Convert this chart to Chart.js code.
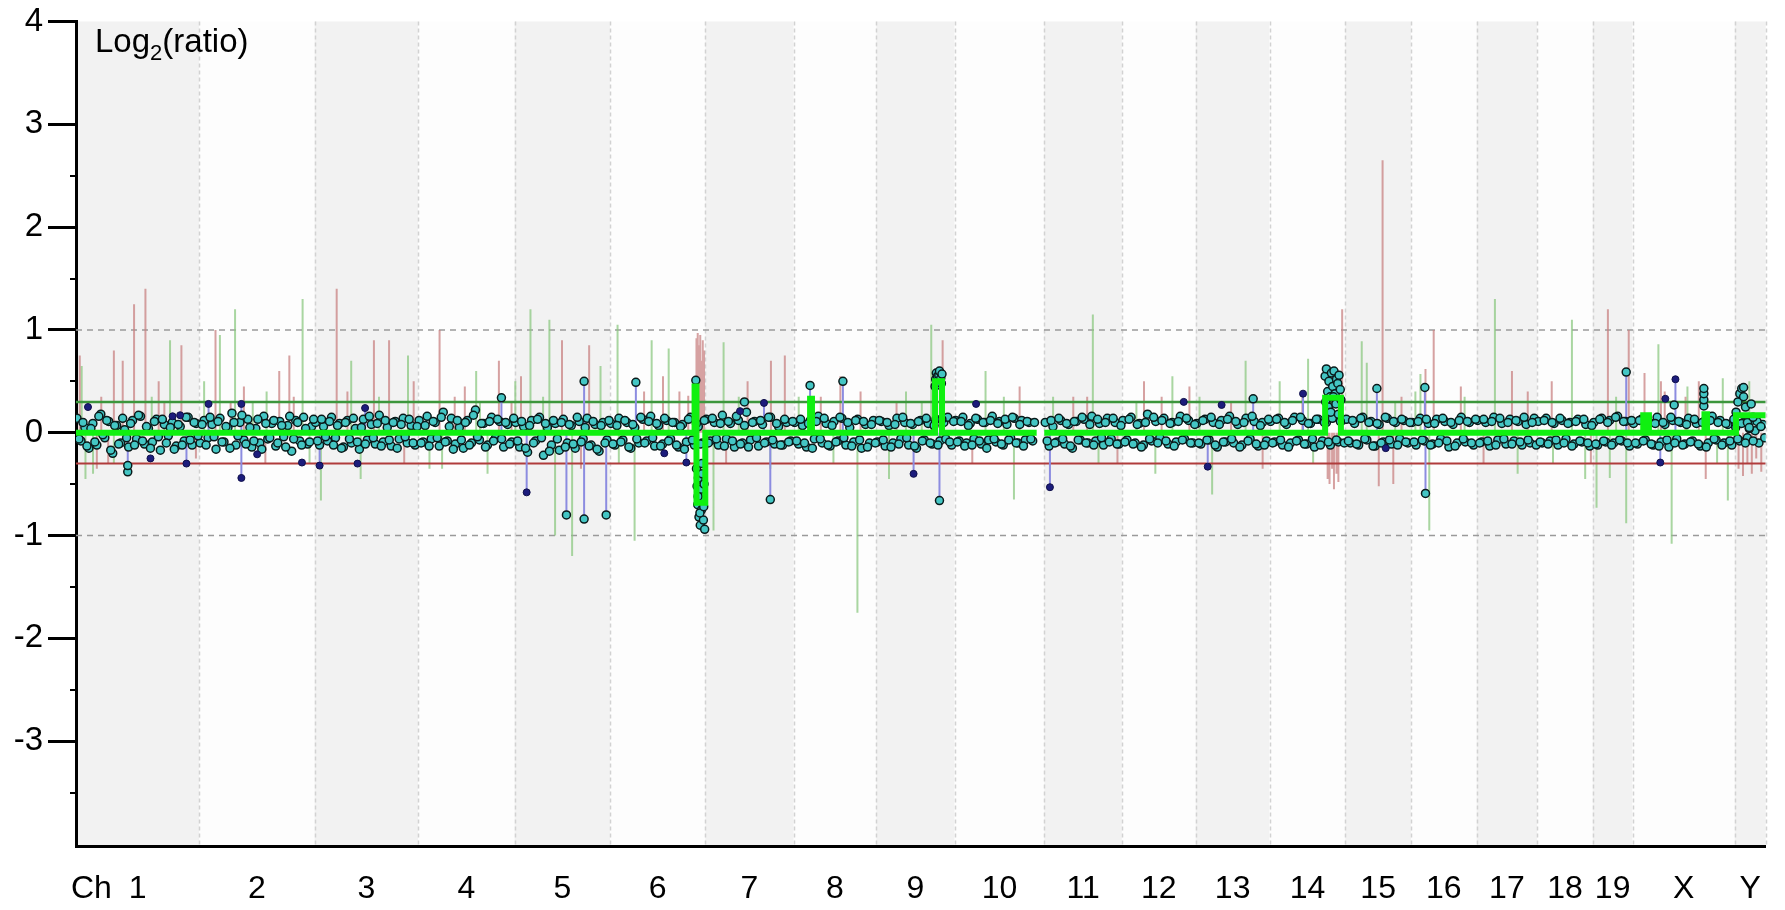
<!DOCTYPE html>
<html>
<head>
<meta charset="utf-8">
<script src="https://cdn.jsdelivr.net/npm/chart.js@4.4.1/dist/chart.umd.min.js"></script>
<style>
  html, body { margin: 0; padding: 0; background: #fff; }
  canvas { display: block; }
</style>
</head>
<body>
<canvas id="cgh" width="1785" height="910"></canvas>
<script>
// Cromossomos (Mb) – largura de cada faixa no eixo do genoma
const chrNames = ['1','2','3','4','5','6','7','8','9','10','11','12','13','14','15','16','17','18','19','X','Y'];
const chrLenMb = [195,183,164,153,151,151,140,131,124,142,123,117,117,120,104,104,96,88,63,162,49];
const chrProbedMb = [195,183,164,153,151,151,140,131,124,128,123,117,117,120,104,104,96,88,63,162,49];

const yTickValues = [4, 3, 2, 1, 0, -1, -2, -3];
const yMinorTicks = [2.5, 1.5, 0.5, -0.5, -1.5, -2.5, -3.5];
const thresholdGain = 0.3;
const thresholdLoss = -0.3;
const guideLevels = [1, -1];

// log2 das sondas, uniformemente espaçadas em cada cromossomo (duas séries intercaladas)
const probesByChrA = [
  [.14,-.08,.05,-.15,.09,-.12,.18,-.05,.11,-.2,.07,-.1,.03,-.14,.12,-.06,.16,-.11,.04,-.09,.13,-.17,.08,-.03,.1,-.13,.06,-.08,.15,-.12,.09],
  [-.1,.12,-.05,.08,-.16,.14,-.09,.05,.19,-.12,.1,-.07,.13,-.14,.04,-.1,.16,-.06,.09,-.13,.11,-.04,.07,-.18,.12,-.08,.15,-.11,.06],
  [.1,-.12,.06,-.08,.15,-.05,.09,-.14,.12,-.1,.04,-.16,.13,-.07,.08,-.11,.17,-.09,.05,-.13,.11,-.06,.14,-.1,.07,-.12],
  [.12,-.09,.16,-.06,.1,-.13,.2,-.08,.14,-.11,.05,-.15,.12,-.1,.22,-.07,.09,-.12,.15,-.05,.11,-.14,.08,-.09],
  [.1,-.14,.06,-.19,.12,-.08,.15,-.22,.05,-.12,.09,-.17,.13,-.1,.07,-.15,.11,-.06,.14,-.12,.08,-.18,.1,-.07],
  [.09,-.12,.14,-.07,.1,-.15,.05,-.1,.13,-.08,.16,-.13,.07,-.11,.12,-.06,.1,-.14,.08,-.09,.15,-.12,.06,-.1],
  [.13,-.08,.1,-.12,.17,-.06,.09,-.14,.12,-.1,.2,-.07,.11,-.13,.08,-.09,.15,-.11,.06,-.12,.1,-.08],
  [.1,-.11,.07,-.14,.12,-.06,.16,-.1,.09,-.13,.11,-.08,.14,-.12,.05,-.09,.13,-.15,.08,-.1,.12],
  [-.09,.11,-.13,.07,-.1,.14,-.06,.1,-.12,.08,-.15,.12,-.07,.09,-.11,.13,-.08,.1,.15,-.12],
  [.12,-.08,.15,-.1,.09,-.06,.13,-.11,.1,-.07,.16,-.09,.11,-.12,.08,-.05,.14,-.1,.12,-.07,.1,-.08],
  [.1,-.13,.06,-.09,.12,-.11,.08,-.15,.11,-.07,.13,-.1,.16,-.08,.09,-.12,.14,-.06,.1,-.11],
  [.12,-.07,.15,-.1,.09,-.12,.18,-.08,.11,-.05,.14,-.11,.1,-.09,.16,-.06,.12,-.1],
  [.09,-.11,.13,-.07,.1,-.14,.12,-.09,.16,-.1,.08,-.12,.14,-.06,.11,-.13,.1,-.08],
  [.11,-.09,.14,-.12,.08,-.1,.15,-.07,.12,-.11,.09,-.14,.13,-.08,.1,-.12,.16,-.09,.12],
  [.13,-.1,.09,-.12,.15,-.07,.11,-.13,.08,-.09,.14,-.11,.1,-.06,.12,-.1],
  [.1,-.12,.14,-.08,.09,-.11,.13,-.06,.11,-.14,.08,-.1,.15,-.09,.1,-.12],
  [.12,-.09,.1,-.13,.15,-.07,.09,-.11,.13,-.08,.11,-.12,.08,-.1,.14],
  [.11,-.1,.14,-.08,.09,-.12,.12,-.06,.1,-.11,.13,-.09,.08,-.13],
  [.1,-.12,.14,-.09,.12,-.1,.16,-.08,.11,-.13],
  [.09,-.11,.13,-.07,.1,-.12,.15,-.09,.08,-.14,.12,-.06,.1,-.11,.14,-.08,.09,-.13,.11,-.1,.16,-.07,.12,-.1,.08,-.12],
  [.05,-.08,.1,-.05,.12,.02,-.1,.08],
];
const probesByChrB = [
  [-.06,.1,-.13,.04,-.09,.16,-.02,.12,-.17,.07,-.11,.14,-.05,.09,-.12,.17,-.08,.06,-.15,.11,-.04,.13,-.1,.05,-.16,.08,-.12,.15,-.07,.1,-.03],
  [.08,-.12,.15,-.04,.11,-.09,.06,-.15,.1,-.03,.17,-.11,.05,-.08,.13,-.16,.09,-.05,.12,-.1,.07,-.14,.16,-.06,.1,-.12,.04,-.09,.13],
  [-.08,.13,-.04,.11,-.12,.07,-.15,.1,-.06,.14,-.09,.05,-.11,.16,-.05,.09,-.13,.12,-.07,.1,-.15,.08,-.04,.13,-.1,.06],
  [-.1,.07,-.13,.11,-.05,.15,-.09,.06,-.16,.12,-.07,.1,-.12,.17,-.04,.09,-.14,.11,-.08,.13,-.06,.1,-.11,.14],
  [-.08,.11,-.15,.07,-.1,.13,-.05,.09,-.18,.12,-.06,.1,-.14,.08,-.11,.15,-.09,.05,-.13,.11,-.16,.07,-.1,.12],
  [-.11,.07,-.09,.12,-.14,.08,-.06,.15,-.1,.11,-.05,.09,-.13,.14,-.08,.1,-.12,.06,-.16,.13,-.07,.09,-.11,.12],
  [-.1,.14,-.06,.09,-.13,.11,-.08,.16,-.11,.07,-.14,.1,-.05,.12,-.1,.15,-.07,.09,-.12,.13,-.09,.11],
  [-.08,.13,-.1,.09,-.15,.11,-.06,.14,-.12,.07,-.09,.15,-.05,.1,-.13,.12,-.07,.11,-.14,.08,-.1],
  [.12,-.07,.1,-.14,.08,-.11,.15,-.05,.09,-.13,.11,-.08,.14,-.1,.07,-.12,.13,-.06,-.09,.11],
  [-.09,.11,-.13,.07,-.12,.14,-.08,.1,-.15,.12,-.06,.09,-.11,.13,-.07,.15,-.1,.08,-.13,.11,-.06,.1],
  [-.08,.12,-.1,.14,-.06,.09,-.13,.11,-.07,.15,-.1,.08,-.12,.13,-.05,.1,-.09,.14,-.11,.07],
  [-.09,.13,-.11,.08,-.14,.1,-.06,.15,-.1,.12,-.08,.09,-.13,.11,-.07,.14,-.1,.08],
  [-.1,.12,-.07,.15,-.12,.08,-.09,.13,-.06,.11,-.14,.1,-.08,.16,-.11,.07,-.12,.13],
  [-.1,.13,-.07,.1,-.14,.12,-.08,.15,-.11,.09,-.06,.13,-.12,.1,-.09,.14,-.07,.11,-.1],
  [-.08,.12,-.11,.14,-.06,.1,-.13,.09,-.1,.15,-.07,.11,-.12,.13,-.09,.1],
  [-.09,.11,-.07,.13,-.12,.09,-.1,.14,-.08,.1,-.13,.12,-.06,.11,-.1,.13],
  [-.1,.13,-.08,.11,-.12,.14,-.06,.1,-.11,.12,-.09,.15,-.07,.1,-.12],
  [-.09,.12,-.11,.1,-.07,.14,-.1,.09,-.13,.11,-.08,.13,-.1,.07],
  [-.11,.13,-.08,.1,-.12,.15,-.07,.11,-.1,.12],
  [-.1,.12,-.08,.14,-.11,.09,-.13,.1,-.07,.15,-.1,.11,-.12,.08,-.09,.13,-.11,.1,-.14,.12,-.06,.1,-.12,.09,-.08,.13],
  [-.06,.09,-.1,.04,-.08,.11,.06,-.05],
];

// aglomerados de sondas (posição no genoma, Mb)
const clusterMb = [983,984,985,986,987,988,989,990,991,992,993,994,995,996,985.5,988.5,991.5,994.5,
  1361,1362,1363,1364,1365,1366,1367,1368,1369,1370,1371,1372,
  1979,1981,1983,1985,1987,1989,1991,1993,1995,1997,1999,2001,2003,1980,1984,1988,1992,1996,2000,2004,
  2579,2579,2579,2579,
  2630,2633,2636,2639,2642,2645,2648,2651,2654,2657];
const clusterLog2 = [-.35,-.52,-.7,-.44,-.82,-.6,-.9,-.55,-.75,-.4,-.66,-.85,-.5,-.94,-.62,-.78,-.3,-.72,
  .45,.52,.58,.5,.55,.47,.56,.6,.5,.53,.48,.57,
  .55,.62,.4,.5,.35,.58,.45,.6,.38,.52,.48,.56,.42,.3,.25,.2,.35,.28,.18,.32,
  .26,.32,.38,.43,
  .2,.3,.38,.43,.35,.25,.1,.05,.28,.15];

// sondas isoladas: c = ciano, n = azul-marinho; stem = haste até o zero
const outlierMb =   [19,82,82,118,153,165,175,210,262,262,287,358,386,446,458,674,714,777,805,805,840,887,932,967,982,1052,1059,1090,1100,1163,1215,1327,1368,1426,1543,1755,1793,1815,1865,1944,2061,2075,2137,2138,2456,2510,2518,2532,2534,2642];
const outlierLog2 = [.25,-.38,-.32,-.25,.16,.17,-.3,.28,.28,-.44,-.21,-.29,-.32,-.3,.24,.34,-.58,-.8,-.84,.5,-.8,.49,-.2,-.29,.51,.21,.3,.29,-.65,.46,.5,-.4,-.66,.28,-.53,.3,-.33,.27,.33,.38,.43,-.15,.44,-.59,.59,-.29,.33,.27,.52,.44];
const outlierKind = ['n','c','c','n','n','n','n','n','n','n','n','n','n','n','n','c','n','c','c','c','c','c','n','n','c','n','c','n','c','c','c','n','c','n','n','n','n','n','c','n','c','n','c','c','c','n','n','c','n','c'];
const outlierStem = [0,1,0,0,0,0,1,1,1,1,0,0,1,0,1,1,1,1,1,1,1,1,0,1,0,0,0,1,1,1,1,1,1,0,1,0,1,0,1,1,1,0,1,1,1,1,0,0,1,0];

// barras claras da segunda amostra (vermelha e verde)
const redBarMb = [6,33,40,51,60,74,92,110,131,140,167,190,221,245,266,300,322,338,345,413,430,472,496,520,535,576,600,616,670,690,705,770,800,813,900,930,956,970,983,985,987,989,991,993,995,1030,1064,1101,1123,1180,1211,1243,1300,1373,1420,1495,1580,1602,1650,1692,1720,1764,1830,1880,1943,1983,1986,1990,1993,1997,2000,2006,2064,2070,2087,2100,2138,2151,2194,2230,2275,2300,2338,2400,2427,2460,2485,2511,2517,2550,2571,2582,2634,2641,2648,2655,2662,2670];
const redBarLog2 = [.75,-.35,.35,-.3,.8,.7,1.25,1.4,.5,.3,.85,-.25,1.0,.3,.45,-.3,.6,.75,.35,1.4,.4,.9,.9,-.3,.5,1.0,.35,.45,.7,.3,.55,.9,-.35,.85,.4,.55,.4,.36,.92,.97,.85,.95,.7,.9,.8,-.3,.5,.7,.75,.35,.55,.4,.3,.9,-.3,.45,.35,.35,-.3,.5,.35,.45,.3,-.35,.4,-.45,-.5,-.35,-.55,-.4,-.48,1.2,-.52,2.65,-.5,.35,.62,1.0,.45,-.3,.6,.4,.5,-.3,1.2,1.0,.58,.5,.4,.35,.5,-.45,-.35,-.42,-.3,-.4,-.25,-.38];
const greenBarMb = [9,15,27,60,120,149,203,228,252,280,302,359,370,388,436,451,480,526,560,580,634,640,652,696,720,740,750,759,786,831,858,860,885,912,939,1010,1026,1050,1100,1145,1200,1238,1288,1315,1340,1355,1441,1470,1486,1548,1611,1620,1680,1710,1737,1780,1800,1853,1907,1952,1960,2037,2045,2090,2122,2130,2144,2200,2248,2284,2340,2370,2391,2409,2430,2440,2456,2507,2528,2553,2600,2609,2617,2651];
const greenBarLog2 = [.65,-.45,-.4,-.3,.35,.9,.5,.95,1.2,.3,.4,1.3,-.3,-.66,.7,-.45,.35,.75,-.35,-.35,.6,.3,-.4,.5,1.2,.35,1.1,-1.0,-1.2,.65,1.05,-.3,-1.05,.9,.82,-.95,.88,.35,-.35,.35,-.3,-1.75,-.45,.4,.3,1.05,.6,.35,-.65,.35,1.15,-.3,.3,-.4,.55,.35,-.6,.7,.5,.72,-.3,.89,.68,.3,.4,.57,-.95,.35,1.3,-.4,-.3,1.1,-.45,-.73,-.44,.35,-.88,.86,-1.08,.45,-.3,.53,-.66,.5];

// segmentação (genoma, Mb)
const segStartMb = [0,980,983,997,1163,1166,1361,1372,1534,1979,2004,2483,2492,2580,2584,2630];
const segEndMb   = [980,983,997,1163,1166,1361,1372,1522,1979,2004,2483,2492,2580,2584,2630,2677];
const segLog2    = [0,.45,-.68,0,.33,0,.5,0,0,.34,0,.17,0,.18,0,.17];

const FONT = "'Liberation Sans', Arial, sans-serif";
const chrStart = chrLenMb.map((_, i) => chrLenMb.slice(0, i).reduce((a, b) => a + b, 0));
const genomeMb = chrLenMb.reduce((a, b) => a + b, 0);

const probePts = [];
[[probesByChrA, 0.25], [probesByChrB, 0.75]].forEach(([serie, desloc]) => {
  serie.forEach((vals, c) => vals.forEach((v, i) => {
    probePts.push({ x: chrStart[c] + (i + desloc) * chrProbedMb[c] / vals.length, y: v });
  }));
});
clusterMb.forEach((m, i) => probePts.push({ x: m, y: clusterLog2[i] }));
outlierMb.forEach((m, i) => { if (outlierKind[i] === 'c') probePts.push({ x: m, y: outlierLog2[i] }); });
const navyPts = outlierMb.map((m, i) => ({ x: m, y: outlierLog2[i] })).filter((_, i) => outlierKind[i] === 'n');

function hastes(pos, vals) {
  const out = [];
  pos.forEach((m, i) => { out.push({ x: m, y: 0 }, { x: m, y: vals[i] }, { x: m, y: null }); });
  return out;
}
const stemPts = hastes(outlierMb.filter((_, i) => outlierStem[i]), outlierLog2.filter((_, i) => outlierStem[i]));

const segPts = [];
segStartMb.forEach((s, i) => {
  if (i > 0 && s !== segEndMb[i - 1]) segPts.push({ x: s, y: null });
  segPts.push({ x: s, y: segLog2[i] }, { x: segEndMb[i], y: segLog2[i] });
});

function linhaH(v) { return [{ x: 0, y: v }, { x: genomeMb, y: v }]; }

const faixas = {
  id: 'faixas',
  beforeDraw(chart) {
    const { ctx, chartArea: a, scales: { x } } = chart;
    ctx.save();
    chrStart.forEach((s, i) => {
      const x0 = x.getPixelForValue(s), x1 = x.getPixelForValue(s + chrLenMb[i]);
      ctx.fillStyle = i % 2 === 0 ? '#f2f2f2' : '#fdfdfd';
      ctx.fillRect(x0, a.top, x1 - x0, a.bottom - a.top);
    });
    ctx.strokeStyle = '#d2d2d2'; ctx.lineWidth = 1.5; ctx.setLineDash([4, 3]);
    chrStart.slice(1).concat([genomeMb]).forEach(s => {
      const px = Math.round(x.getPixelForValue(s)) + 0.5;
      ctx.beginPath(); ctx.moveTo(px, a.top); ctx.lineTo(px, a.bottom); ctx.stroke();
    });
    ctx.restore();
  },
  afterDraw(chart) {
    const { ctx, chartArea: a, scales: { y } } = chart;
    ctx.save();
    ctx.strokeStyle = '#000'; ctx.lineWidth = 2;
    yMinorTicks.forEach(v => {
      const py = Math.round(y.getPixelForValue(v));
      ctx.beginPath(); ctx.moveTo(a.left - 6, py); ctx.lineTo(a.left, py); ctx.stroke();
    });
    ctx.fillStyle = '#000';
    ctx.textBaseline = 'alphabetic';
    ctx.font = `32px ${FONT}`;
    ctx.fillText('Ch', 71, 898);
    ctx.font = `33px ${FONT}`;
    let px = 95;
    ctx.fillText('Log', px, 52); px += ctx.measureText('Log').width;
    ctx.font = `22px ${FONT}`;
    ctx.fillText('2', px, 60); px += ctx.measureText('2').width;
    ctx.font = `33px ${FONT}`;
    ctx.fillText('(ratio)', px, 52);
    ctx.restore();
  }
};

const linha = (data, color, width, order, dash) => ({
  data, showLine: true, borderColor: color, borderWidth: width, borderDash: dash || [],
  pointRadius: 0, pointHoverRadius: 0, spanGaps: false, order,
});

new Chart(document.getElementById('cgh'), {
  type: 'scatter',
  data: {
    datasets: [
      linha(segPts, '#10f010', 6, 0),
      { data: navyPts, pointRadius: 3.5, pointBackgroundColor: '#1c1c7c', pointBorderColor: '#10104a', pointBorderWidth: 1, order: 1 },
      { data: probePts, pointRadius: 4, pointBackgroundColor: '#44c6c4', pointBorderColor: '#0a1a1a', pointBorderWidth: 1.5, order: 2 },
      linha(stemPts, '#8c8ce0', 2, 3),
      linha(linhaH(thresholdGain), '#3c963c', 2.5, 4),
      linha(linhaH(thresholdLoss), '#b03c3c', 2, 4),
      linha(hastes(redBarMb, redBarLog2), 'rgba(200,130,130,0.75)', 2, 5),
      linha(hastes(greenBarMb, greenBarLog2), 'rgba(140,200,130,0.75)', 2, 6),
      ...guideLevels.map(v => linha(linhaH(v), '#9a9a9a', 1.5, 7, [6, 5])),
    ],
  },
  options: {
    responsive: false,
    animation: false,
    devicePixelRatio: 1,
    layout: { padding: { top: 20, right: 10, left: 0, bottom: 0 } },
    plugins: { legend: { display: false }, tooltip: { enabled: false } },
    scales: {
      x: {
        type: 'linear', min: 0, max: genomeMb,
        afterFit: s => { s.height = 64; },
        afterBuildTicks: s => { s.ticks = chrStart.map((st, i) => ({ value: st + chrLenMb[i] / 2 })); },
        ticks: { autoSkip: false, maxRotation: 0, padding: 24, color: '#000', font: { family: FONT, size: 32 }, callback: (v, i) => chrNames[i] },
        grid: { display: true, drawOnChartArea: false, drawTicks: false },
        border: { display: true, color: '#000', width: 3 },
      },
      y: {
        type: 'linear', min: -4.02, max: 4.0,
        afterFit: s => { s.width = 76; },
        afterBuildTicks: s => { s.ticks = yTickValues.map(v => ({ value: v })); },
        ticks: { padding: 5, color: '#000', font: { family: FONT, size: 33, lineHeight: 1 }, callback: v => String(v) },
        grid: { drawOnChartArea: false, drawTicks: true, tickLength: 28, tickWidth: 3, tickColor: '#000' },
        border: { display: true, color: '#000', width: 3 },
      },
    },
  },
  plugins: [faixas],
});
</script>
</body>
</html>
